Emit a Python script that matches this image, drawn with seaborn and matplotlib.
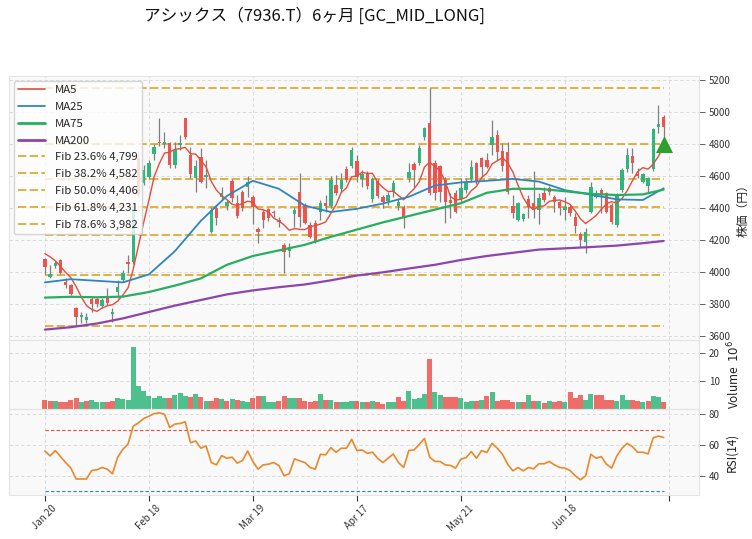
import numpy as np
import pandas as pd
import matplotlib
matplotlib.use("Agg")
import matplotlib.pyplot as plt
import seaborn as sns
from matplotlib.lines import Line2D

# ---------------- data ----------------
opens = [4081, 3969, 4037, 4075, 3935, 3919, 3773, 3717, 3700, 3829,
         3829, 3790, 3842, 3738, 3873, 3950, 4065, 4064, 4711, 4554,
         4596, 4737, 4815, 4800, 4804, 4669, 4795, 4960, 4730, 4585,
         4717, 4596, 4252, 4398, 4467, 4412, 4569, 4429, 4498, 4529,
         4467, 4267, 4377, 4392, 4375, 4325, 4169, 4133, 4363, 4502,
         4419, 4294, 4304, 4377, 4429, 4412, 4544, 4517, 4642, 4663,
         4694, 4579, 4617, 4454, 4569, 4471, 4446, 4502, 4412, 4404,
         4585, 4673, 4683, 4842, 4933, 4679, 4662, 4575, 4450, 4492,
         4454, 4512, 4579, 4679, 4710, 4700, 4794, 4856, 4756, 4752,
         4412, 4325, 4329, 4454, 4433, 4387, 4496, 4523, 4471, 4440,
         4387, 4408, 4346, 4238, 4190, 4377, 4471, 4512, 4492, 4419,
         4294, 4512, 4642, 4725, 4612, 4565, 4537, 4642, 4904, 4967]
highs = [4090, 4044, 4071, 4080, 3960, 3925, 3783, 3752, 3742, 3846,
         3846, 3835, 3898, 3773, 3950, 4013, 4106, 4420, 4750, 4669,
         4700, 4800, 4960, 4877, 4815, 4810, 4856, 4965, 4783, 4700,
         4773, 4700, 4408, 4419, 4533, 4450, 4580, 4480, 4510, 4600,
         4481, 4283, 4388, 4400, 4388, 4346, 4179, 4179, 4408, 4621,
         4430, 4310, 4325, 4450, 4481, 4600, 4606, 4617, 4660, 4783,
         4731, 4638, 4630, 4596, 4580, 4481, 4500, 4575, 4460, 4419,
         4679, 4690, 4794, 4908, 5149.2, 4700, 4669, 4596, 4492, 4512,
         4585, 4585, 4700, 4690, 4717, 4742, 4950, 4888, 4804, 4815,
         4481, 4440, 4370, 4481, 4633, 4492, 4533, 4540, 4481, 4450,
         4471, 4420, 4367, 4252, 4273, 4565, 4510, 4523, 4502, 4430,
         4492, 4648, 4773, 4773, 4648, 4617, 4596, 4898, 5044, 4983]
lows = [3985, 3965, 4023, 3985, 3898, 3855, 3663.7, 3679, 3679, 3752,
        3783, 3773, 3794, 3690, 3835, 3940, 3992, 4050, 4470, 4544,
        4580, 4700, 4790, 4773, 4650, 4650, 4762, 4830, 4585, 4502,
        4554, 4523, 4242, 4294, 4450, 4390, 4440, 4340, 4380, 4471,
        4302, 4183, 4273, 4320, 4342, 4283, 3996, 4096, 4283, 4283,
        4300, 4210, 4179, 4325, 4377, 4400, 4481, 4502, 4560, 4648,
        4565, 4533, 4520, 4440, 4460, 4398, 4420, 4471, 4390, 4273,
        4565, 4533, 4669, 4825, 4481, 4450, 4440, 4304, 4337, 4367,
        4429, 4492, 4565, 4550, 4596, 4648, 4731, 4700, 4630, 4490,
        4340, 4320, 4320, 4337, 4340, 4300, 4440, 4480, 4377, 4356,
        4325, 4350, 4242, 4158, 4117, 4367, 4460, 4367, 4367, 4300,
        4283, 4502, 4627, 4617, 4585, 4554, 4502, 4633, 4867, 4846]
closes = [4029, 3990, 4058, 3992, 3919, 3860, 3721, 3731, 3721, 3798,
          3798, 3825, 3804, 3752, 3908, 3992, 4050, 4392, 4481, 4637,
          4679, 4783, 4805, 4812, 4669, 4763, 4805, 4846, 4610, 4662,
          4565, 4606, 4387, 4337, 4492, 4440, 4460, 4350, 4398, 4565,
          4404, 4252, 4325, 4335, 4369, 4315, 4127, 4158, 4387, 4346,
          4308, 4221, 4190, 4433, 4412, 4575, 4492, 4575, 4575, 4762,
          4596, 4610, 4537, 4579, 4475, 4440, 4481, 4554, 4440, 4340,
          4627, 4637, 4773, 4902, 4492, 4492, 4502, 4440, 4433, 4377,
          4523, 4554, 4654, 4565, 4658, 4654, 4846, 4752, 4660, 4502,
          4367, 4429, 4362, 4408, 4387, 4460, 4450, 4502, 4440, 4398,
          4408, 4367, 4290, 4200, 4248, 4533, 4492, 4481, 4377, 4315,
          4485, 4637, 4731, 4683, 4600, 4610, 4590, 4892, 4925, 4908]
volume_m = [3.3, 3.0, 2.7, 2.4, 2.6, 3.3, 3.8, 2.4, 3.0, 3.3,
            2.6, 2.4, 2.6, 3.0, 3.8, 3.6, 3.2, 22.0, 8.3, 6.5,
            4.8, 3.8, 4.5, 3.9, 3.9, 5.0, 5.7, 4.8, 4.2, 5.4,
            4.2, 3.0, 3.0, 3.8, 3.6, 3.0, 3.6, 3.3, 3.0, 2.6,
            3.8, 4.8, 4.5, 2.4, 2.6, 3.0, 4.8, 3.8, 3.8, 3.8,
            3.0, 2.6, 3.0, 5.4, 3.3, 3.2, 2.6, 2.6, 2.6, 3.0,
            3.0, 2.6, 2.6, 3.0, 2.4, 1.8, 2.4, 2.6, 4.2, 3.0,
            6.5, 3.6, 3.8, 5.4, 17.9, 6.0, 5.0, 4.2, 4.2, 4.2,
            3.8, 2.4, 3.0, 3.0, 3.3, 4.8, 6.0, 3.0, 3.3, 3.3,
            2.6, 2.4, 2.6, 5.0, 3.0, 3.0, 2.1, 3.0, 2.4, 3.0,
            2.6, 6.0, 3.8, 5.0, 3.3, 5.4, 5.0, 5.0, 3.3, 3.3,
            3.0, 5.0, 3.3, 3.3, 3.0, 2.4, 3.0, 4.8, 4.2, 2.6]
rsi14 = [56.1, 52.9, 56.4, 52.5, 48.6, 45.0, 37.9, 37.9, 37.9, 43.4,
         43.9, 45.4, 44.3, 41.3, 52.1, 57.2, 60.7, 72.3, 74.4, 77.2,
         78.7, 80.4, 80.9, 80.0, 71.4, 73.6, 74.0, 75.1, 61.5, 62.6,
         57.9, 59.4, 48.6, 47.1, 53.1, 51.4, 52.1, 48.2, 49.9, 56.1,
         49.3, 44.3, 47.1, 47.5, 48.6, 46.7, 40.0, 41.3, 51.0, 49.7,
         48.6, 45.4, 44.3, 54.0, 53.6, 58.3, 55.3, 57.9, 57.9, 63.7,
         56.4, 56.8, 54.6, 55.3, 51.4, 48.6, 51.4, 54.2, 48.6, 45.4,
         56.4, 56.8, 60.4, 64.3, 52.1, 49.3, 49.3, 47.1, 46.7, 45.0,
         50.8, 51.8, 55.7, 51.4, 56.4, 55.1, 61.1, 57.9, 54.0, 47.5,
         43.2, 45.4, 43.2, 45.4, 44.5, 47.8, 47.8, 49.3, 47.1, 45.4,
         45.0, 43.4, 40.0, 37.4, 40.0, 54.0, 51.4, 52.5, 47.5, 45.0,
         52.9, 57.9, 61.1, 58.9, 55.3, 55.3, 54.2, 64.7, 65.8, 64.9]
ma_idx = [0, 5, 10, 15, 20, 25, 30, 35, 40, 45, 50, 55, 60, 65, 70, 75,
          80, 85, 90, 95, 100, 105, 110, 115, 119]
ma25 = [3935, 3955, 3945, 3935, 3985, 4130, 4320, 4475, 4570, 4520, 4415,
        4375, 4395, 4428, 4470, 4540, 4560, 4570, 4582, 4565, 4512, 4483,
        4454, 4450, 4523]
ma75 = [3840, 3845, 3842, 3846, 3875, 3915, 3960, 4045, 4100, 4135, 4170,
        4220, 4265, 4310, 4350, 4390, 4430, 4495, 4520, 4520, 4505, 4488,
        4481, 4485, 4515]
ma200 = [3640, 3655, 3678, 3710, 3750, 3790, 3825, 3860, 3885, 3905, 3922,
         3948, 3978, 3998, 4022, 4045, 4075, 4100, 4120, 4140, 4148, 4156,
         4165, 4180, 4194]
ma5_head = [4115, 4095, 4070, 4035]
tick_labels = ["Jan 20", "Feb 18", "Mar 19", "Apr 17", "May 21", "Jun 18", ""]
fib_ratios = [0.0, 0.236, 0.382, 0.5, 0.618, 0.786, 1.0]
title = "アシックス（7936.T）6ヶ月 [GC_MID_LONG]"

# ---------------- derived ----------------
n = len(closes)
x = np.arange(n)
o = np.array(opens, float); h = np.array(highs, float)
l = np.array(lows, float); c = np.array(closes, float)
ma5 = pd.Series(c).rolling(5).mean().to_numpy()
ma5[:4] = ma5_head
hi, lo = h.max(), l.min()
fib_levels = [hi - r * (hi - lo) for r in fib_ratios]

UP = "#2fb67c"
DN = "#ef5350"
FIB = "#daa520"

sns.set_theme(style="whitegrid")
plt.rcParams['font.family'] = ['Noto Sans CJK JP', 'DejaVu Sans']

fig = plt.figure(figsize=(7.52, 5.39), dpi=100)
W, H = 752, 539
def box(l_, t_, r_, b_):
    return [l_ / W, 1 - b_ / H, (r_ - l_) / W, (b_ - t_) / H]

ax = fig.add_axes(box(9, 76, 699, 340))
axv = fig.add_axes(box(9, 340, 699, 409), sharex=ax)
axr = fig.add_axes(box(9, 409, 699, 495), sharex=ax)

for a in (ax, axv, axr):
    a.set_facecolor("#f9f9f9")
    a.grid(True, linestyle=(0, (4, 3)), color="#d6d6d6", linewidth=0.6)
    for s in a.spines.values():
        s.set_color("#e4e4e4")
        s.set_linewidth(0.8)
    a.yaxis.tick_right()
    a.yaxis.set_label_position("right")
    a.tick_params(axis="y", labelsize=7, length=4, width=0.6, color="#444444",
                  labelcolor="#333333", pad=3, right=True, left=False)

# candles
ax.vlines(x, l, h, color="#7f7f7f", linewidth=0.9, zorder=2)
body_lo = np.minimum(o, c)
body_h = np.maximum(np.abs(c - o), 6)
cols = [UP if cc >= oo else DN for oo, cc in zip(o, c)]
ax.bar(x, body_h, bottom=body_lo, width=0.64, color=cols, zorder=3, linewidth=0)

# fib lines
for r, lv in zip(fib_ratios, fib_levels):
    ax.hlines(lv, 0, n - 1, colors=FIB, linestyles=(0, (5, 2)), linewidth=1.2, zorder=1.5)

# moving averages
sns.lineplot(x=x, y=ma5, ax=ax, color="#e74c3c", linewidth=1.0, zorder=4)
sns.lineplot(x=ma_idx, y=ma25, ax=ax, color="#2e86c1", linewidth=1.3, zorder=4)
sns.lineplot(x=ma_idx, y=ma75, ax=ax, color="#27ae60", linewidth=1.6, zorder=4)
sns.lineplot(x=ma_idx, y=ma200, ax=ax, color="#8e44ad", linewidth=1.6, zorder=4)

# signal marker
ax.scatter([x[-1]], [l[-1] * 0.99], marker="^", s=150, color="#2ca02c", zorder=6, linewidths=0)

ax.set_ylim(3575, 5225)
ax.set_yticks(np.arange(3600, 5201, 200))
ax.set_ylabel("株価（円）", fontsize=8.5, color="#222222")

handles = [Line2D([], [], color="#e74c3c", lw=1.2, label="MA5"),
           Line2D([], [], color="#2e86c1", lw=1.3, label="MA25"),
           Line2D([], [], color="#27ae60", lw=2.0, label="MA75"),
           Line2D([], [], color="#8e44ad", lw=2.0, label="MA200")]
for r, lv in zip(fib_ratios, fib_levels):
    if 0 < r < 1:
        handles.append(Line2D([], [], color=FIB, lw=1.2, ls=(0, (5, 2)),
                              label=f"Fib {r*100:.1f}% {lv:,.0f}"))
leg = ax.legend(handles=handles, loc="upper left", fontsize=8.2, frameon=True,
                facecolor="white", framealpha=0.8, edgecolor="#cccccc",
                handlelength=2.4, borderaxespad=0.4, labelspacing=0.6)
leg.set_zorder(10)

# volume
vcols = [UP if (c[i] >= (c[i - 1] if i > 0 else o[i])) else DN for i in range(n)]
axv.bar(x, volume_m, width=0.95, color=vcols, alpha=0.85, linewidth=0, zorder=2)
axv.set_ylim(0, 24.6)
axv.set_yticks([10, 20])
axv.set_ylabel("Volume  $10^6$", fontsize=8.5, color="#222222")

# RSI
sns.lineplot(x=x, y=rsi14, ax=axr, color="#e8892b", linewidth=1.2, zorder=3)
axr.hlines(70, 0, n - 1, colors="#e74c3c", linestyles=(0, (3, 2)), linewidth=0.8)
axr.hlines(30, 0, n - 1, colors="#2e86c1", linestyles=(0, (3, 2)), linewidth=0.8)
axr.set_ylim(27.5, 83.4)
axr.set_yticks([40, 60, 80])
axr.set_ylabel("RSI(14)", fontsize=8.5, color="#222222")

ax.set_xlim(-6.9, 125.8)
ticks = np.arange(0, 121, 20)
axr.set_xticks(ticks)
axr.set_xticklabels(tick_labels, rotation=45, ha="center", fontsize=7, color="#333333")
axr.tick_params(axis="x", length=4, width=0.8, color="#333333", bottom=True, pad=2)
for a in (ax, axv):
    a.tick_params(axis="x", labelbottom=False, bottom=False)
    a.set_xlabel("")
axr.set_xlabel("")

fig.text(315 / W, 1 - 16 / H, title, ha="center", va="center", fontsize=12, color="#111111")

fig.savefig("out.png", dpi=100)
